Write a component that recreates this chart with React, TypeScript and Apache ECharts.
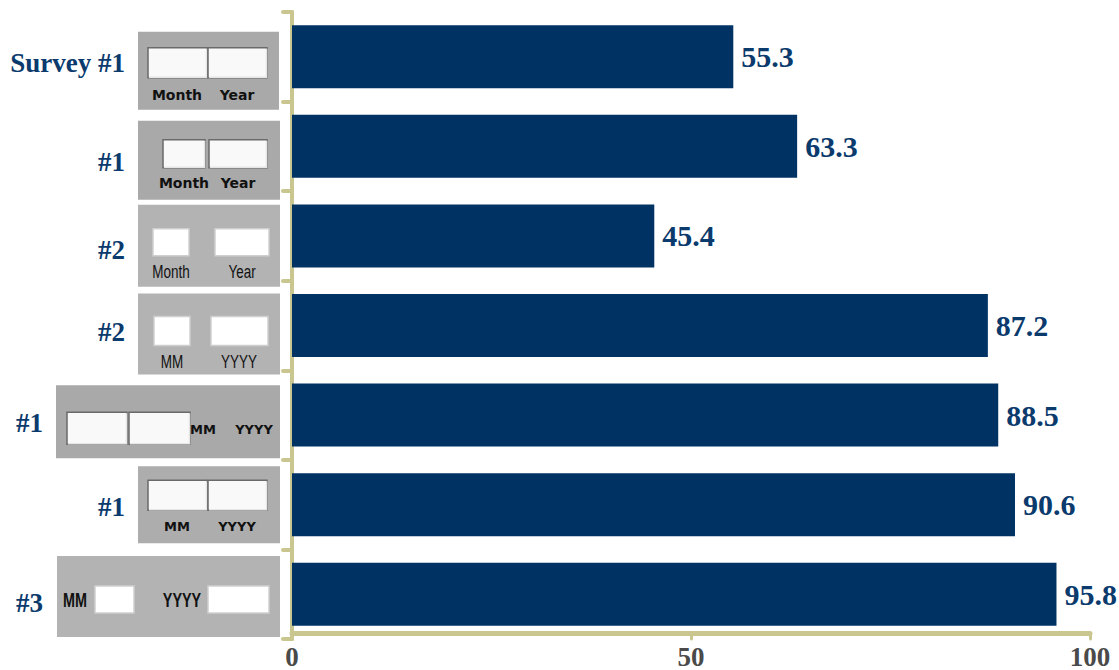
import React, { useEffect, useRef } from "react";
import * as echarts from "echarts";

// ---- data ----
const CATEGORIES = ["Survey #1", "#1", "#2", "#2", "#1", "#1", "#3"];
const VALUES = [55.3, 63.3, 45.4, 87.2, 88.5, 90.6, 95.8];
const X_MIN = 0;
const X_MAX = 100;
const X_INTERVAL = 50;
const FIELD_LABELS = [
  ["Month", "Year"],
  ["Month", "Year"],
  ["Month", "Year"],
  ["MM", "YYYY"],
  ["MM", "YYYY"],
  ["MM", "YYYY"],
  ["MM", "YYYY"],
];

// ---- styling / layout (not data) ----
const NAVY = "#003264";
const LABEL_NAVY = "#0b3a6d";
const KHAKI = "#c9c78f";
const SERIF = "'Liberation Serif', 'Times New Roman', serif";
const LABEL_SHIFT = [6, 16, 14, 6, 8, 2, 9];
const LABEL_PAD_RIGHT = [0, 0, 0, 0, 82, 0, 82];

type Field = [number, number, number, number];
type BoxSpec = {
  x: number; dy: number; w: number; h: number; bg: string; style: "pixel" | "narrow" | "narrowBold" | "pixelSmall";
  inputs: Field[]; texts: [number, number][]; inset: boolean;
};
const BOXES: BoxSpec[] = [
  { x: 138, dy: -25, w: 141, h: 78, bg: "#a9a9a9", style: "pixel", inset: true,
    inputs: [[10, 16, 59, 30], [70, 16, 59, 30]], texts: [[39, 63], [99, 63]] },
  { x: 138, dy: -25.6, w: 142, h: 79, bg: "#a9a9a9", style: "pixel", inset: true,
    inputs: [[25, 19, 42, 28], [71, 19, 58, 28]], texts: [[46, 62], [100, 62]] },
  { x: 138, dy: -31.3, w: 142, h: 82, bg: "#b3b3b3", style: "narrow", inset: false,
    inputs: [[15, 24, 36, 27], [77, 24, 54, 27]], texts: [[33, 66], [104, 66]] },
  { x: 138, dy: -32, w: 142, h: 81, bg: "#b3b3b3", style: "narrow", inset: false,
    inputs: [[16, 23, 36, 29], [73, 23, 57, 29]], texts: [[34, 68], [101, 68]] },
  { x: 56, dy: -29.7, w: 224, h: 73, bg: "#a9a9a9", style: "pixelSmall", inset: true,
    inputs: [[11, 27, 60, 32], [73, 27, 61, 32]], texts: [[147, 44], [198, 44]] },
  { x: 138, dy: -38.4, w: 142, h: 77, bg: "#adadad", style: "pixelSmall", inset: true,
    inputs: [[10, 14, 59, 30], [70, 14, 59, 30]], texts: [[39, 60], [99, 60]] },
  { x: 57, dy: -38.1, w: 223, h: 81, bg: "#b3b3b3", style: "narrowBold", inset: false,
    inputs: [[38, 30, 39, 27], [151, 30, 61, 27]], texts: [[18, 44], [125, 44]] },
];

const FONT_STYLES: Record<string, { font: string; scaleX: number }> = {
  pixel: { font: "bold 14px 'DejaVu Sans'", scaleX: 1 },
  pixelSmall: { font: "bold 13px 'DejaVu Sans'", scaleX: 1 },
  narrow: { font: "19px 'Liberation Sans'", scaleX: 0.71 },
  narrowBold: { font: "bold 20px 'Liberation Sans'", scaleX: 0.72 },
};

export default function App() {
  const ref = useRef<HTMLDivElement>(null);

  useEffect(() => {
    if (!ref.current) return;
    document.body.style.margin = "0";
    const chart = echarts.init(ref.current, undefined, { renderer: "svg" });

    const rich: Record<string, any> = {};
    CATEGORIES.forEach((_, i) => {
      rich["r" + i] = {
        fontFamily: SERIF,
        fontWeight: "bold",
        fontSize: 27,
        color: LABEL_NAVY,
        padding: [LABEL_SHIFT[i] * 2, LABEL_PAD_RIGHT[i], 0, 0],
      };
    });

    chart.setOption({
      animation: false,
      backgroundColor: "#ffffff",
      grid: { left: 292, right: 29, top: 12, bottom: 30, containLabel: false },
      xAxis: {
        type: "value",
        min: X_MIN,
        max: X_MAX,
        interval: X_INTERVAL,
        offset: -6,
        splitLine: { show: false },
        axisLine: { show: true, lineStyle: { color: KHAKI, width: 5, cap: "round" } },
        axisTick: { show: true, length: 6, lineStyle: { color: KHAKI, width: 3, cap: "round" } },
        axisLabel: {
          margin: 10,
          fontFamily: SERIF,
          fontWeight: "bold",
          fontSize: 27,
          color: "#4a4a4a",
        },
      },
      yAxis: {
        type: "category",
        inverse: true,
        data: CATEGORIES,
        axisLine: { show: true, lineStyle: { color: KHAKI, width: 4, cap: "round" } },
        axisTick: { show: true, length: 9, lineStyle: { color: KHAKI, width: 4, cap: "round" } },
        axisLabel: {
          margin: 167,
          formatter: (_v: string, i: number) => `{r${i}|${CATEGORIES[i]}}`,
          rich,
        },
      },
      series: [
        {
          type: "bar",
          data: VALUES,
          barWidth: 63,
          itemStyle: { color: NAVY },
          label: {
            show: true,
            position: "right",
            distance: 8,
            fontFamily: SERIF,
            fontWeight: "bold",
            fontSize: 30,
            color: LABEL_NAVY,
            formatter: (p: any) => p.value.toFixed(1),
          },
        },
      ],
    });

    const elements: any[] = [];
    BOXES.forEach((b, i) => {
      const c = chart.convertToPixel({ yAxisIndex: 0 }, i) as number;
      const fs = FONT_STYLES[b.style];
      const children: any[] = [
        { type: "rect", shape: { x: 0, y: 0, width: b.w, height: b.h }, style: { fill: b.bg } },
      ];
      b.inputs.forEach((f) => {
        children.push({
          type: "rect",
          shape: { x: f[0], y: f[1], width: f[2], height: f[3] },
          style: b.inset
            ? { fill: "#f9f9f9", stroke: "#6a6a6a", lineWidth: 1.5 }
            : { fill: "#ffffff", stroke: "#cfcfcf", lineWidth: 1.5 },
        });
        if (b.inset) {
          children.push({
            type: "polyline",
            shape: { points: [[f[0] + 1, f[1] + f[3] - 0.5], [f[0] + f[2] - 0.5, f[1] + f[3] - 0.5], [f[0] + f[2] - 0.5, f[1] + 1]] },
            style: { stroke: "#e6e6e6", lineWidth: 1.5, fill: null },
          });
        }
      });
      b.texts.forEach((t, k) => {
        children.push({
          type: "text",
          x: t[0],
          y: t[1],
          scaleX: fs.scaleX,
          style: {
            text: FIELD_LABELS[i][k],
            font: fs.font,
            fill: "#111111",
            textAlign: "center",
            textVerticalAlign: "middle",
          },
        });
      });
      elements.push({ type: "group", x: b.x, y: c + b.dy, children });
    });

    chart.setOption({ graphic: { elements } });

    return () => chart.dispose();
  }, []);

  return <div ref={ref} style={{ width: 1119, height: 670 }} />;
}
